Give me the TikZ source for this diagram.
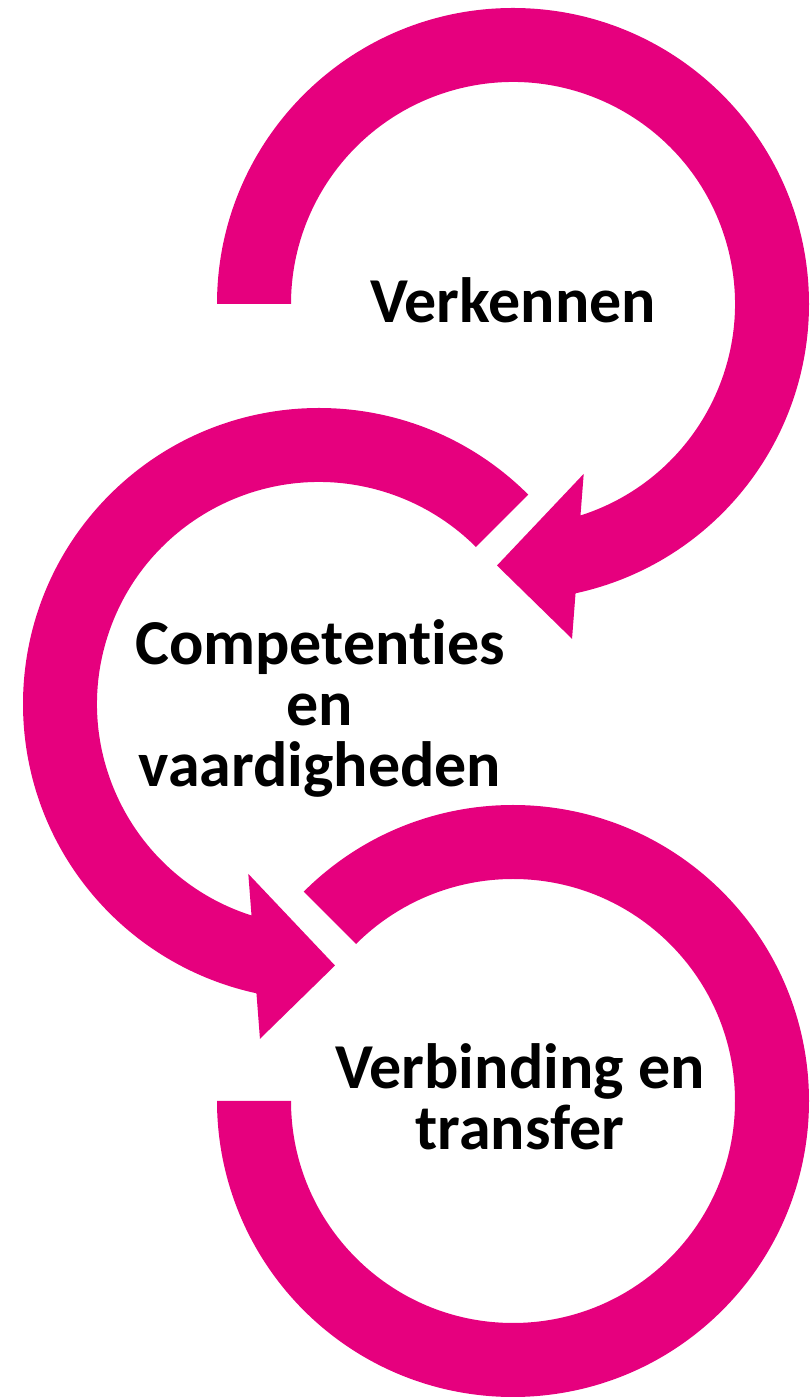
\documentclass[tikz,border=0pt]{standalone}
\usepackage{fontspec}
\setmainfont{Carlito}[Ligatures=NoCommon]
\usetikzlibrary{calc}
\definecolor{roze}{RGB}{230,0,126}

\begin{document}
\begin{tikzpicture}[x=0.5pt,y=0.5pt,
    pijl/.style={fill=roze, draw=none},
    fase/.style={font=\fontsize{32}{30.5}\selectfont\bfseries, align=center, text=black, inner sep=0pt}]
			%%%%% START %%%%%
			\useasboundingbox (0,0) rectangle (810,1399);
			
			\coordinate (c1) at (513,1095);
			\coordinate (c2) at (319,695);
			\coordinate (c3) at (513,298);
			
			% bovenste boog, met de klok mee
			\fill[pijl] ($(c1)+(180:296)$) arc[start angle=180, end angle=-77.8, radius=296]
			  -- ($(c1)+(-80:340)$) -- ($(c1)+(-93.5:262)$) -- ($(c1)+(-67.4:184)$)
			  -- ($(c1)+(-72.3:222)$) arc[start angle=-72.3, end angle=180, radius=222] -- cycle;
			
			% middelste boog, tegen de klok in
			\fill[pijl] ($(c2)+(45:296)$) arc[start angle=45, end angle=257.8, radius=296]
			  -- ($(c2)+(260:340)$) -- ($(c2)+(273.5:262)$) -- ($(c2)+(247.4:184)$)
			  -- ($(c2)+(252.3:222)$) arc[start angle=252.3, end angle=45, radius=222] -- cycle;
			
			% onderste boog, zonder punt
			\fill[pijl] ($(c3)+(135:296)$) arc[start angle=135, end angle=-180, radius=296]
			  -- ($(c3)+(180:222)$) arc[start angle=-180, end angle=135, radius=222] -- cycle;
			
			\node[fase, anchor=base] (verkennen) at (513,1076) {Verkennen};
			\node[fase, anchor=base] (competenties) at (320,612) {Competenties\\en\\vaardigheden};
			\node[fase, anchor=base] (verbinding) at (520,249) {Verbinding en\\transfer};
			%%%%% END %%%%%
\end{tikzpicture}
\end{document}
